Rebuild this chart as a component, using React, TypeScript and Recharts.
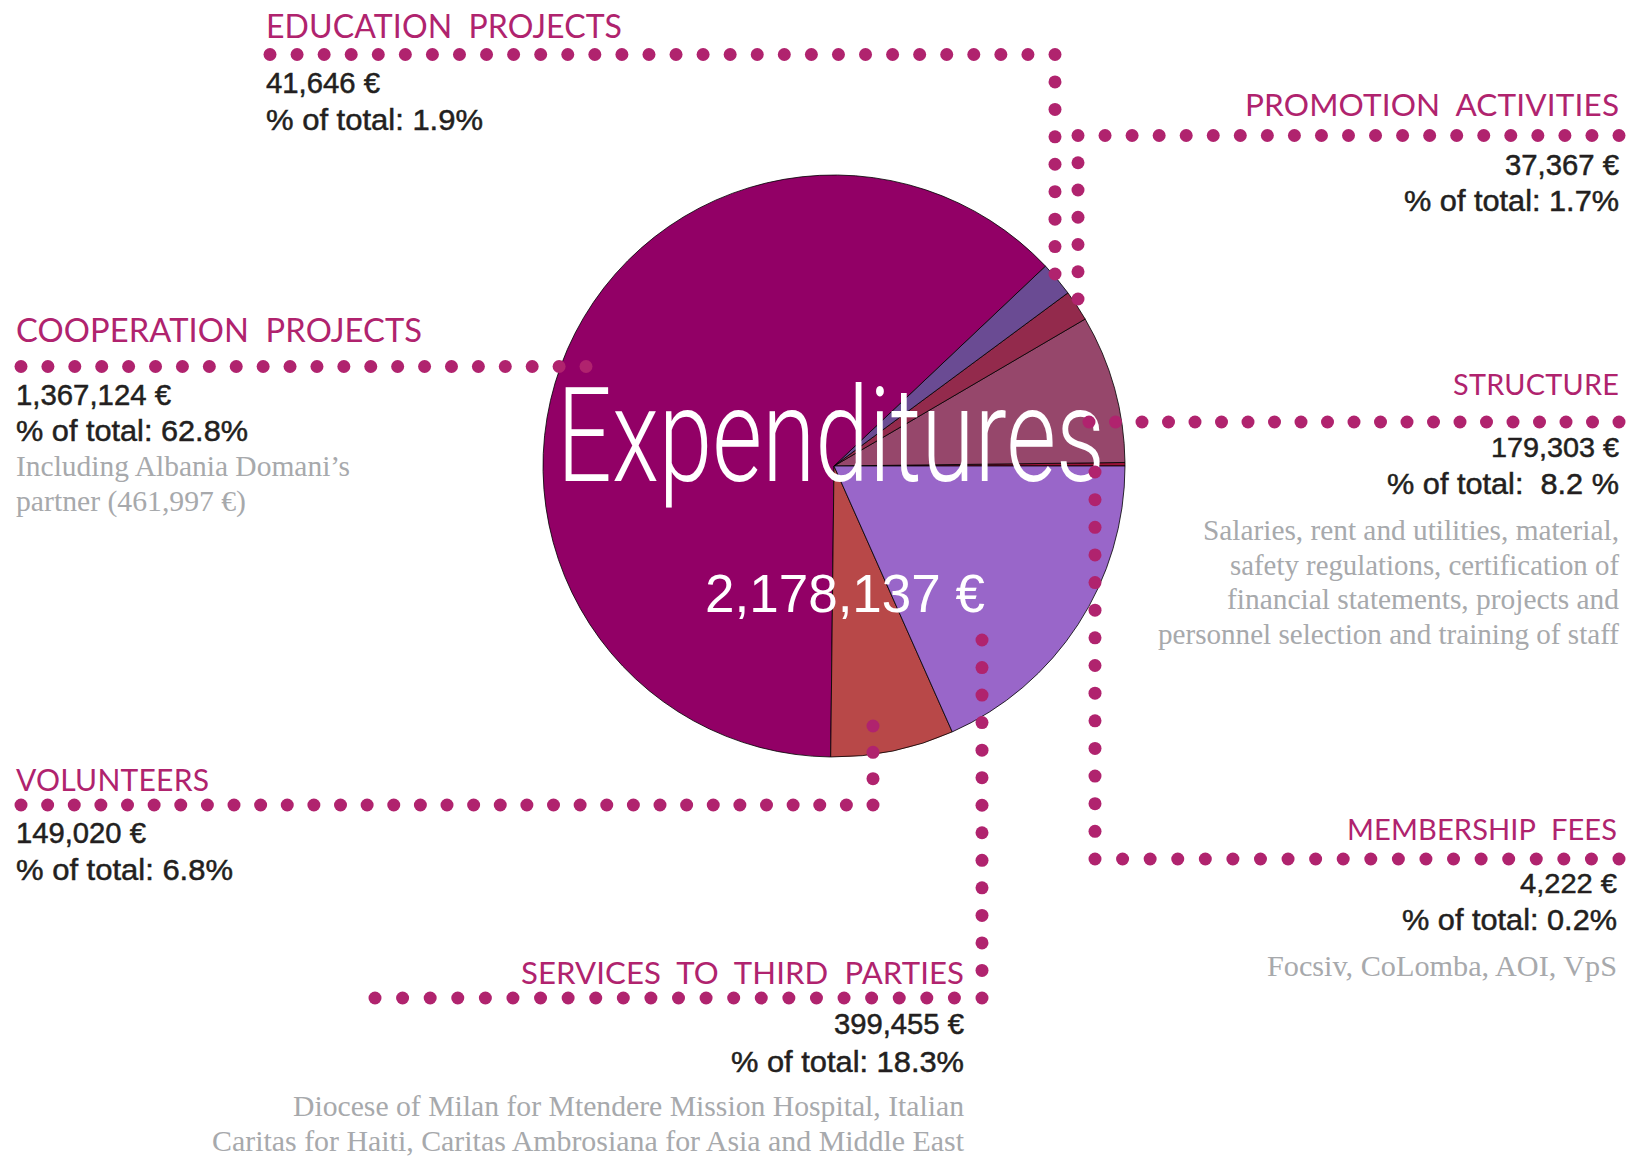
import React from 'react';
import { PieChart, Pie, Cell } from 'recharts';

// ---------- DATA ----------
const categories = [
  'MEMBERSHIP FEES',
  'STRUCTURE',
  'PROMOTION ACTIVITIES',
  'EDUCATION PROJECTS',
  'COOPERATION PROJECTS',
  'VOLUNTEERS',
  'SERVICES TO THIRD PARTIES',
];
const amounts = [4222, 179303, 37367, 41646, 1367124, 149020, 399455];
const shareLabels = [
  '% of total: 0.2%',
  '% of total:  8.2 %',
  '% of total: 1.7%',
  '% of total: 1.9%',
  '% of total: 62.8%',
  '% of total: 6.8%',
  '% of total: 18.3%',
];
const notes: string[][] = [
  ['Focsiv, CoLomba, AOI, VpS'],
  [
    'Salaries, rent and utilities, material,',
    'safety regulations, certification of',
    'financial statements, projects and',
    'personnel selection and training of staff',
  ],
  [],
  [],
  ['Including Albania Domani\u2019s', 'partner (461,997 \u20ac)'],
  [],
  [
    'Diocese of Milan for Mtendere Mission Hospital, Italian',
    'Caritas for Haiti, Caritas Ambrosiana for Asia and Middle East',
  ],
];
const chartTitle = 'Expenditures';

// ---------- STYLE / LAYOUT ----------
const sliceColors = ['#9a1238', '#96476b', '#932a4c', '#6a4b93', '#920066', '#b84848', '#9966c9'];
const DOT = '#b0236e';
const TITLE = '#b0236e';
const DARK = '#231f20';
const GREY = '#a7a9ac';

const W = 1633;
const H = 1160;
const CX = 834;
const CY = 466;
const R = 291;

const TITLE_FONT = "Lato, 'Noto Sans', sans-serif";
const VALUE_FONT = "'Liberation Sans', Arial, sans-serif";
const NOTE_FONT = "'Liberation Serif', 'DejaVu Serif', serif";

type Block = {
  anchor: 'start' | 'end';
  x: number;
  titleY: number;
  titleW: number;
  valueY: number;
  valueW: number;
  pctY: number;
  pctW: number;
  noteY: number[];
  noteW: number[];
  leader: number[][];
};

// layout per category, same order as categories
const blocks: Block[] = [
  {
    anchor: 'end', x: 1617, titleY: 840, titleW: 270, valueY: 893, valueW: 97, pctY: 930, pctW: 215,
    noteY: [976], noteW: [350],
    leader: [[1619, 859], [1095, 859], [1095, 472]],
  },
  {
    anchor: 'end', x: 1619, titleY: 395, titleW: 166, valueY: 457, valueW: 128, pctY: 494, pctW: 232,
    noteY: [540, 575, 609, 644], noteW: [416, 389, 392, 461],
    leader: [[1619, 422], [1089, 422]],
  },
  {
    anchor: 'end', x: 1619, titleY: 116, titleW: 374, valueY: 175, valueW: 114, pctY: 211, pctW: 215,
    noteY: [], noteW: [],
    leader: [[1619, 135.5], [1078, 135.5], [1078, 299]],
  },
  {
    anchor: 'start', x: 266, titleY: 38, titleW: 356, valueY: 93, valueW: 114, pctY: 130, pctW: 217,
    noteY: [], noteW: [],
    leader: [[270, 54.5], [1055, 54.5], [1055, 274]],
  },
  {
    anchor: 'start', x: 16, titleY: 342, titleW: 406, valueY: 405, valueW: 155, pctY: 441, pctW: 232,
    noteY: [476, 511], noteW: [334, 230],
    leader: [[21, 366.5], [586, 366.5]],
  },
  {
    anchor: 'start', x: 16, titleY: 791, titleW: 193, valueY: 843, valueW: 130, pctY: 880, pctW: 217,
    noteY: [], noteW: [],
    leader: [[21, 805], [873, 805], [873, 726]],
  },
  {
    anchor: 'end', x: 964, titleY: 984, titleW: 443, valueY: 1034, valueW: 130, pctY: 1072, pctW: 233,
    noteY: [1116, 1151], noteW: [671, 752],
    leader: [[375, 998], [982, 998], [982, 640]],
  },
];

const pieData = categories.map((name, i) => ({ name, value: amounts[i] }));
const total = amounts.reduce((a, b) => a + b, 0);
const fmt = (v: number) => v.toLocaleString('en-US') + ' \u20ac';

// measure natural width so that a text never runs wider than its slot
let measureCtx: CanvasRenderingContext2D | null = null;
function fitSize(text: string, family: string, weight: number, size: number, target: number, wordSpacing = 0): number {
  if (typeof document === 'undefined') return size;
  if (!measureCtx) measureCtx = document.createElement('canvas').getContext('2d');
  if (!measureCtx) return size;
  measureCtx.font = `${weight} ${size}px ${family}`;
  const spaces = (text.match(/ /g) || []).length;
  const w = measureCtx.measureText(text).width + spaces * wordSpacing;
  const limit = target - 2;
  return w > limit ? (size * limit) / w : size;
}

function dotsAlong(pts: number[][], step = 27): number[][] {
  const out: number[][] = [];
  for (let i = 0; i < pts.length - 1; i++) {
    const [x0, y0] = pts[i];
    const [x1, y1] = pts[i + 1];
    const len = Math.hypot(x1 - x0, y1 - y0);
    const n = Math.max(1, Math.round(len / step));
    for (let k = i === 0 ? 0 : 1; k <= n; k++) {
      out.push([x0 + ((x1 - x0) * k) / n, y0 + ((y1 - y0) * k) / n]);
    }
  }
  return out;
}

const Overlay = () => (
  <svg
    width={W}
    height={H}
    style={{ position: 'absolute', left: 0, top: 0, pointerEvents: 'none' }}
  >
    <text
      x={557}
      y={481}
      fill="#ffffff"
      fontFamily="Roboto, Lato, sans-serif"
      fontWeight={300}
      fontSize={132}
      textLength={548}
      lengthAdjust="spacingAndGlyphs"
    >
      {chartTitle}
    </text>
    <text
      x={705}
      y={612}
      fill="#ffffff"
      fontFamily={VALUE_FONT}
      fontSize={fitSize(fmt(total), 'Liberation Sans', 400, 54, 282)}
      textLength={280}
      lengthAdjust="spacingAndGlyphs"
    >
      {fmt(total)}
    </text>
    {blocks.map((b, i) => (
      <g key={'l' + i}>
        {dotsAlong(b.leader).map((p, j) => (
          <circle key={j} cx={p[0]} cy={p[1]} r={6.5} fill={DOT} />
        ))}
      </g>
    ))}
    {blocks.map((b, i) => (
      <g key={'t' + i} textAnchor={b.anchor}>
        <text
          x={b.x}
          y={b.titleY}
          fill={TITLE}
          fontFamily={TITLE_FONT}
          fontWeight={400}
          fontSize={fitSize(categories[i], 'Lato', 400, 33, b.titleW, 8)}
          style={{ wordSpacing: 8 }}
          textLength={b.titleW}
          lengthAdjust="spacing"
        >
          {categories[i]}
        </text>
        <text
          x={b.x}
          y={b.valueY}
          fill={DARK}
          stroke={DARK}
          strokeWidth={0.5}
          fontFamily={VALUE_FONT}
          fontSize={fitSize(fmt(amounts[i]), 'Liberation Sans', 400, 30, b.valueW)}
          textLength={b.valueW}
          lengthAdjust="spacingAndGlyphs"
        >
          {fmt(amounts[i])}
        </text>
        <text
          x={b.x}
          y={b.pctY}
          fill={DARK}
          stroke={DARK}
          strokeWidth={0.5}
          fontFamily={VALUE_FONT}
          fontSize={fitSize(shareLabels[i], 'Liberation Sans', 400, 30, b.pctW)}
          textLength={b.pctW}
          lengthAdjust="spacingAndGlyphs"
          xmlSpace="preserve"
        >
          {shareLabels[i]}
        </text>
        {notes[i].map((line, j) => (
          <text
            key={j}
            x={b.x}
            y={b.noteY[j]}
            fill={GREY}
            fontFamily={NOTE_FONT}
            fontSize={fitSize(line, 'Liberation Serif', 400, 31, b.noteW[j])}
            textLength={b.noteW[j]}
            lengthAdjust="spacingAndGlyphs"
          >
            {line}
          </text>
        ))}
      </g>
    ))}
  </svg>
);

export default function App() {
  return (
    <div
      style={{
        position: 'absolute',
        left: 0,
        top: 0,
        width: W,
        height: H,
        background: '#ffffff',
        overflow: 'hidden',
      }}
    >
      <PieChart width={W} height={H} margin={{ top: 0, right: 0, bottom: 0, left: 0 }}>
        <Pie
          data={pieData}
          dataKey="value"
          nameKey="name"
          cx={CX}
          cy={CY}
          innerRadius={0}
          outerRadius={R}
          startAngle={0}
          endAngle={360}
          stroke="#000000"
          strokeWidth={0.8}
          isAnimationActive={false}
        >
          {pieData.map((d, i) => (
            <Cell key={d.name} fill={sliceColors[i]} />
          ))}
        </Pie>
      </PieChart>
      <Overlay />
    </div>
  );
}
